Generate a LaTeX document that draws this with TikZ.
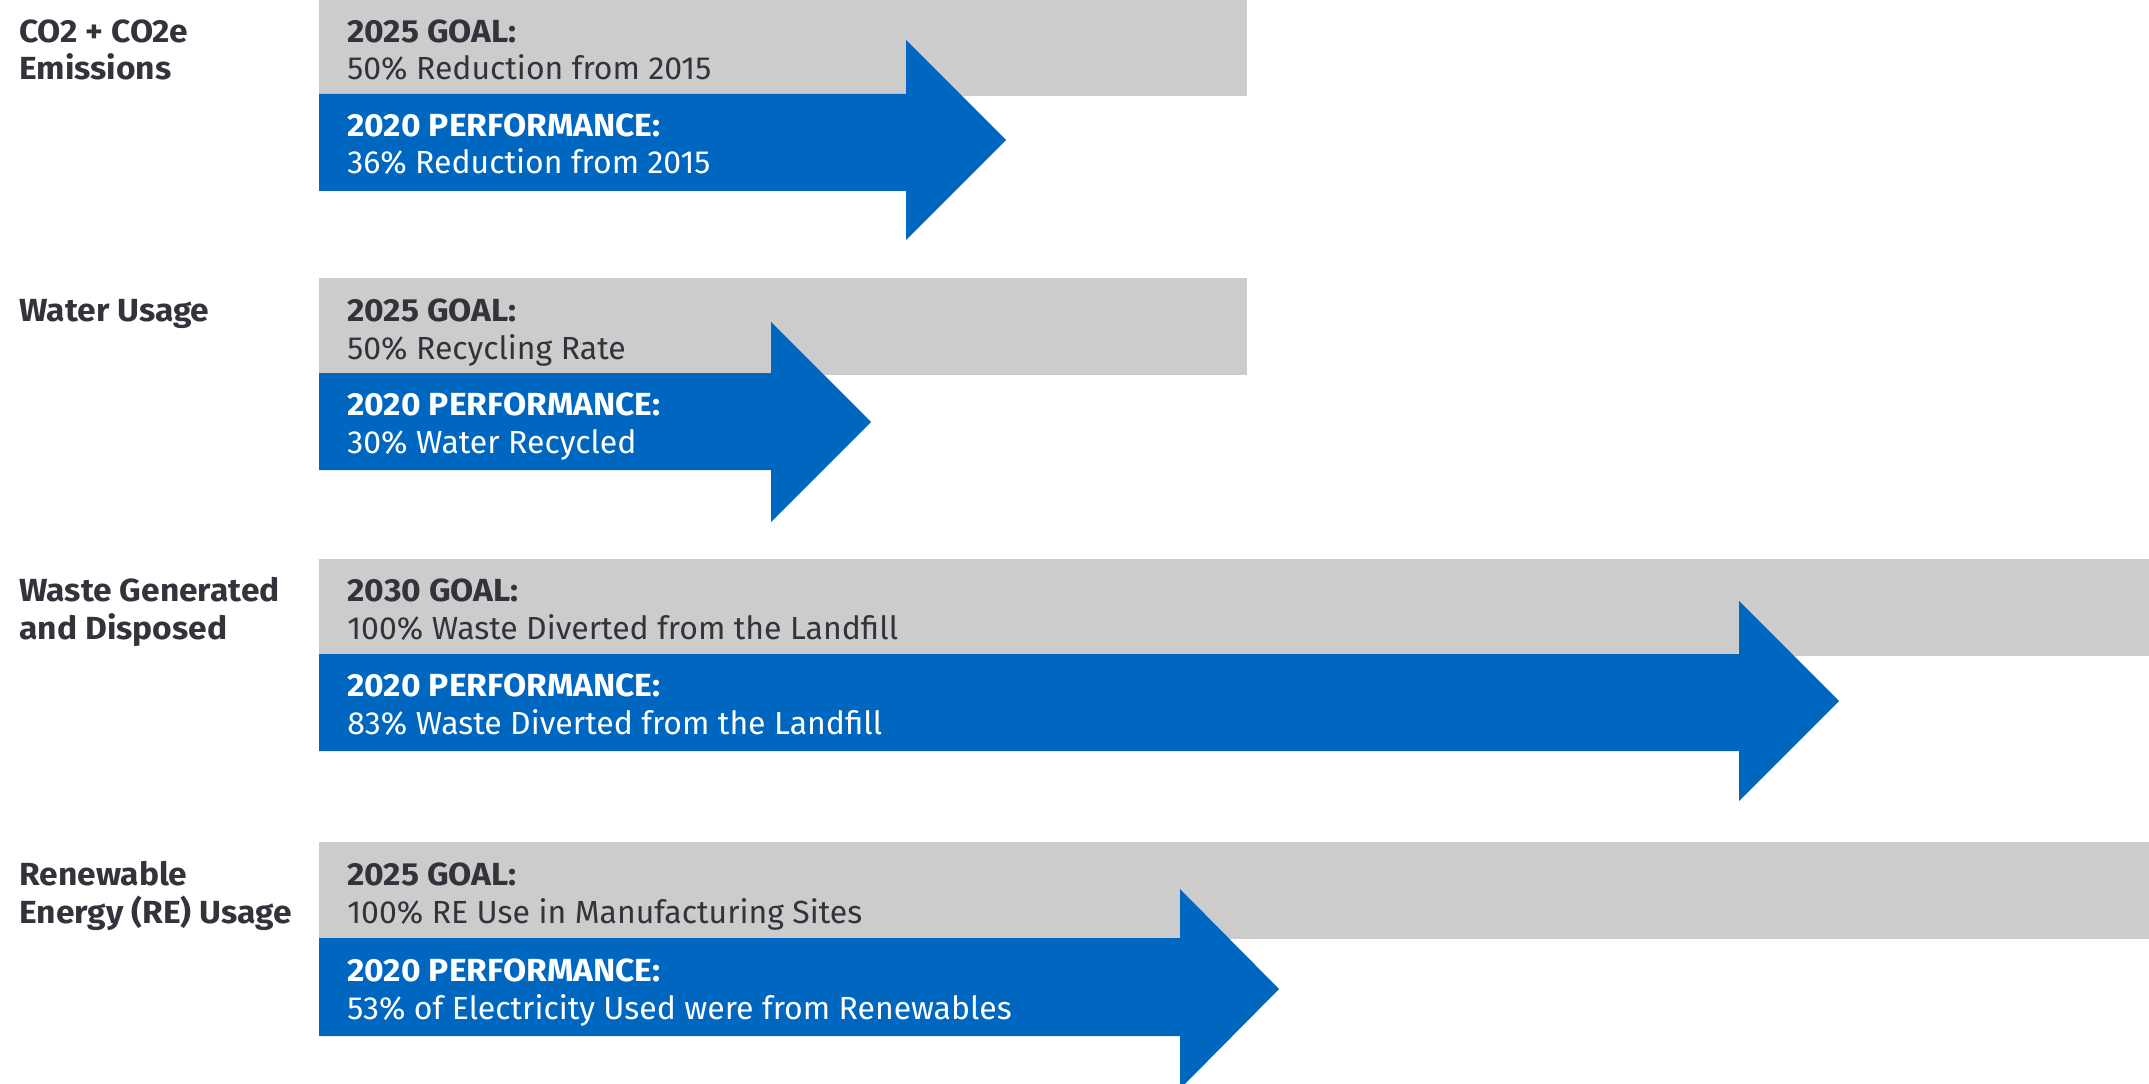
\documentclass[tikz,border=0pt]{standalone}
\usepackage{fontspec}
\setmainfont{Fira Sans}[BoldFeatures={FakeStretch=1.05}]
\usepackage{tikz}
\usetikzlibrary{positioning}

\definecolor{goalgray}{HTML}{CCCCCC}
\definecolor{perfblue}{HTML}{0067C0}
\definecolor{textdark}{HTML}{33333B}

\begin{document}
\begin{tikzpicture}[
        x=0.02cm, y=-0.02cm,
        label_style/.style={anchor=base west, inner sep=0pt, align=left, text=textdark, font=\bfseries\fontsize{18.2}{21.6}\selectfont},
        goal_style/.style={anchor=base west, inner sep=0pt, align=left, text=textdark, font=\fontsize{18.2}{21.6}\selectfont},
        perf_style/.style={goal_style, text=white},
        bar_style/.style={fill=goalgray},
        arrow_style/.style={fill=perfblue}
    ]
    \useasboundingbox (0,0) rectangle (2149,1084);

    % Row 1
    \fill[bar_style] (319,-1) rectangle (1247,96);
    \fill[arrow_style] (319,94) -- (906,94) -- (906,40) -- (1006,140) -- (906,240) -- (906,191) -- (319,191) -- cycle;
    \node[label_style] (L1) at (19,80) {CO2 + CO2e\\Emissions};
    \node[goal_style] (G1) at (347,80) {\textbf{2025 GOAL:}\\50\% Reduction from 2015};
    \node[perf_style] (P1) at (347,174) {\textbf{2020 PERFORMANCE:}\\36\% Reduction from 2015};

    % Row 2
    \fill[bar_style] (319,278) rectangle (1247,375);
    \fill[arrow_style] (319,373) -- (771,373) -- (771,322) -- (871,422) -- (771,522) -- (771,470) -- (319,470) -- cycle;
    \node[label_style] (L2) at (19,321) {Water Usage};
    \node[goal_style] (G2) at (347,359) {\textbf{2025 GOAL:}\\50\% Recycling Rate};
    \node[perf_style] (P2) at (347,453) {\textbf{2020 PERFORMANCE:}\\30\% Water Recycled};

    % Row 3
    \fill[bar_style] (319,559) rectangle (2149,656);
    \fill[arrow_style] (319,654) -- (1739,654) -- (1739,601) -- (1839,701) -- (1739,801) -- (1739,751) -- (319,751) -- cycle;
    \node[label_style] (L3) at (19,639) {Waste Generated\\and Disposed};
    \node[goal_style] (G3) at (347,639) {\textbf{2030 GOAL:}\\100\% Waste Diverted from the Landfill};
    \node[perf_style] (P3) at (347,734) {\textbf{2020 PERFORMANCE:}\\83\% Waste Diverted from the Landfill};

    % Row 4
    \fill[bar_style] (319,842) rectangle (2149,939);
    \fill[arrow_style] (319,938) -- (1180,938) -- (1180,889) -- (1279,989) -- (1180,1089) -- (1180,1036) -- (319,1036) -- cycle;
    \node[label_style] (L4) at (19,923) {Renewable\\Energy (RE) Usage};
    \node[goal_style] (G4) at (347,923) {\textbf{2025 GOAL:}\\100\% RE Use in Manufacturing Sites};
    \node[perf_style] (P4) at (347,1019) {\textbf{2020 PERFORMANCE:}\\53\% of Electricity Used were from Renewables};

\end{tikzpicture}
\end{document}
